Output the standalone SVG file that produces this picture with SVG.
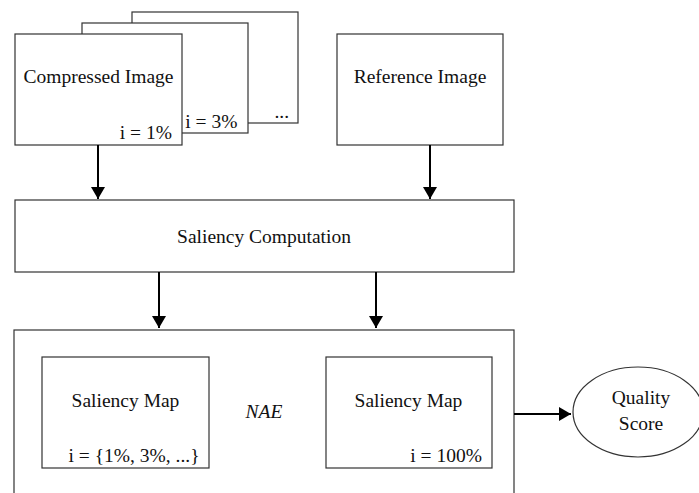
<svg xmlns="http://www.w3.org/2000/svg" width="699" height="493" viewBox="0 0 699 493">
<defs>
<style>
.box{fill:#fff;stroke:#333;stroke-width:1.2}
.t{font-family:"Liberation Serif","Times New Roman",serif;font-size:19.5px;fill:#111}
.m{text-anchor:middle}
.e{text-anchor:end}
.conn line{stroke:#000;stroke-width:2;marker-end:url(#arr)}
</style>
<marker id="arr" viewBox="0 0 12 14" refX="12" refY="7" markerWidth="12" markerHeight="14" markerUnits="userSpaceOnUse" orient="auto">
<path d="M0,0 L12,7 L0,14 z" fill="#000"/>
</marker>
</defs>
<rect width="699" height="493" fill="#fff"/>
<g id="compressed-stack">
<rect class="box" x="132" y="12" width="166" height="111"/>
<text class="t e" x="289" y="118">...</text>
<rect class="box" x="82" y="23" width="166" height="110"/>
<text class="t e" x="237.5" y="128">i = 3%</text>
<rect class="box" x="15" y="34" width="167" height="111"/>
<text class="t m" x="98.5" y="83">Compressed Image</text>
<text class="t e" x="172" y="139">i = 1%</text>
</g>
<g id="reference-image">
<rect class="box" x="337" y="34" width="166" height="111"/>
<text class="t m" x="420" y="83">Reference Image</text>
</g>
<g id="saliency-computation">
<rect class="box" x="15" y="200" width="499" height="72"/>
<text class="t m" x="264" y="243">Saliency Computation</text>
</g>
<g id="nae-block">
<rect class="box" x="14" y="330" width="500" height="200"/>
<text class="t m" x="264" y="418" font-style="italic">NAE</text>
</g>
<g id="saliency-map-1">
<rect class="box" x="42" y="357" width="167" height="111"/>
<text class="t m" x="125.5" y="407">Saliency Map</text>
<text class="t e" x="199.5" y="462">i = {1%, 3%, ...}</text>
</g>
<g id="saliency-map-2">
<rect class="box" x="326" y="357" width="166" height="111"/>
<text class="t m" x="408.5" y="407">Saliency Map</text>
<text class="t e" x="482" y="462">i = 100%</text>
</g>
<g id="quality-score">
<ellipse class="box" cx="638" cy="412" rx="65" ry="45"/>
<text class="t m" x="641" y="404">Quality</text>
<text class="t m" x="641" y="430">Score</text>
</g>
<g class="conn" id="connectors">
<line x1="98" y1="145" x2="98" y2="199"/>
<line x1="430" y1="145" x2="430" y2="199"/>
<line x1="159" y1="272" x2="159" y2="328"/>
<line x1="376" y1="272" x2="376" y2="328"/>
<line x1="514" y1="414" x2="571" y2="414"/>
</g>
</svg>
